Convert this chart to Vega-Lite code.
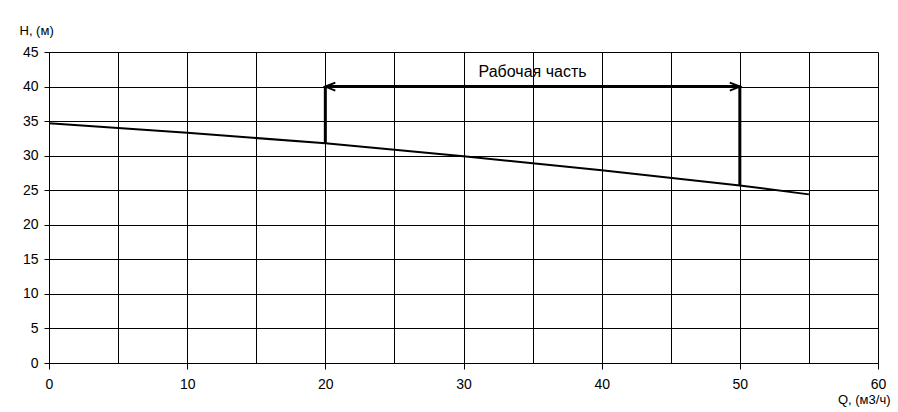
{
  "$schema": "https://vega.github.io/schema/vega-lite/v6.json",
  "width": 829,
  "height": 311,
  "autosize": {"type": "none"},
  "padding": {"left": 49, "top": 52, "right": 20, "bottom": 49},
  "background": "white",
  "config": {
    "view": {"stroke": null},
    "font": "Liberation Sans",
    "axis": {"labelFont": "Liberation Sans", "titleFont": "Liberation Sans", "labelColor": "#000", "titleColor": "#000", "domainColor": "#000", "tickColor": "#000", "gridColor": "#000", "gridOpacity": 1, "gridWidth": 1, "domainWidth": 1, "tickWidth": 1, "labelOverlap": false}
  },
  "datasets": {
    "curve": [
      {"Q": 0, "H": 34.7},
      {"Q": 10, "H": 33.3},
      {"Q": 20, "H": 31.8},
      {"Q": 30, "H": 29.9},
      {"Q": 40, "H": 27.9},
      {"Q": 50, "H": 25.7},
      {"Q": 55, "H": 24.4}
    ],
    "bounds": [
      {"Q": 20, "Hlow": 31.8, "Htop": 40},
      {"Q": 50, "Hlow": 25.7, "Htop": 40}
    ],
    "span": [
      {"Qa": 20, "Qb": 50, "H": 40, "label": "Рабочая часть", "Qmid": 35, "Hlabel": 42.1}
    ]
  },
  "layer": [
    {
      "data": {"name": "curve"},
      "mark": {"type": "line", "color": "#000", "strokeWidth": 2},
      "encoding": {
        "x": {
          "field": "Q", "type": "quantitative",
          "scale": {"domain": [0, 60], "nice": false, "zero": false},
          "axis": {
            "values": [0, 5, 10, 15, 20, 25, 30, 35, 40, 45, 50, 55, 60],
            "tickCount": 30,
            "labelExpr": "datum.value % 10 === 0 ? datum.label : ''",
            "tickOpacity": {"condition": {"test": "datum.value % 10 === 0", "value": 1}, "value": 0},
            "tickSize": 6,
            "labelPadding": 8,
            "labelFontSize": 14,
            "labelFlush": false,
            "grid": true,
            "title": "Q, (м3/ч)",
            "titleFontSize": 13,
            "titleFontWeight": "normal",
            "titleAnchor": null,
            "titleAlign": "right",
            "titleBaseline": "alphabetic",
            "titleX": 841,
            "titleY": 40
          }
        },
        "y": {
          "field": "H", "type": "quantitative",
          "scale": {"domain": [0, 45], "nice": false, "zero": false},
          "axis": {
            "values": [0, 5, 10, 15, 20, 25, 30, 35, 40, 45],
            "tickCount": 30,
            "tickSize": 5,
            "labelPadding": 6,
            "labelFontSize": 14,
            "labelFlush": false,
            "grid": true,
            "title": "H, (м)",
            "titleFontSize": 13,
            "titleFontWeight": "normal",
            "titleAngle": 0,
            "titleAnchor": null,
            "titleAlign": "left",
            "titleBaseline": "alphabetic",
            "titleX": -30,
            "titleY": -18
          }
        }
      }
    },
    {
      "data": {"name": "bounds"},
      "mark": {"type": "rule", "color": "#000", "strokeWidth": 3},
      "encoding": {
        "x": {"field": "Q", "type": "quantitative"},
        "y": {"field": "Hlow", "type": "quantitative"},
        "y2": {"field": "Htop"}
      }
    },
    {
      "data": {"name": "span"},
      "mark": {"type": "rule", "color": "#000", "strokeWidth": 3},
      "encoding": {
        "x": {"field": "Qa", "type": "quantitative"},
        "x2": {"field": "Qb"},
        "y": {"field": "H", "type": "quantitative"}
      }
    },
    {
      "data": {"name": "span"},
      "mark": {"type": "point", "shape": "M2,-0.8L0,0L2,0.8", "filled": false, "stroke": "#000", "strokeWidth": 2, "size": 100, "opacity": 1},
      "encoding": {
        "x": {"field": "Qa", "type": "quantitative"},
        "y": {"field": "H", "type": "quantitative"}
      }
    },
    {
      "data": {"name": "span"},
      "mark": {"type": "point", "shape": "M-2,-0.8L0,0L-2,0.8", "filled": false, "stroke": "#000", "strokeWidth": 2, "size": 100, "opacity": 1},
      "encoding": {
        "x": {"field": "Qb", "type": "quantitative"},
        "y": {"field": "H", "type": "quantitative"}
      }
    },
    {
      "data": {"name": "span"},
      "mark": {"type": "text", "color": "#000", "fontSize": 16, "font": "Liberation Sans", "baseline": "middle", "align": "center"},
      "encoding": {
        "x": {"field": "Qmid", "type": "quantitative"},
        "y": {"field": "Hlabel", "type": "quantitative"},
        "text": {"field": "label"}
      }
    }
  ]
}
